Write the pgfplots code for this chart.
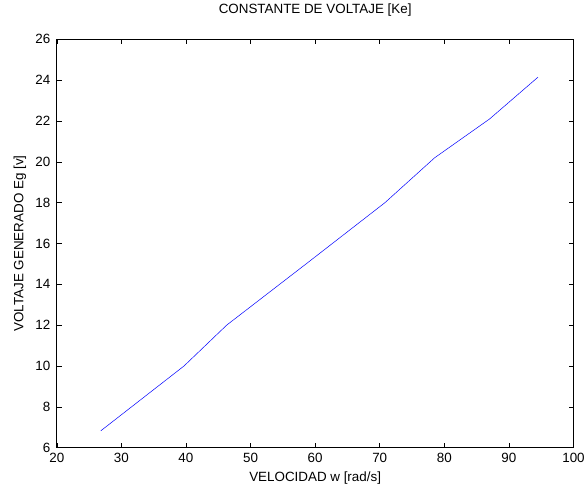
\documentclass[border=0pt]{standalone}
\usepackage{fontspec}
\setmainfont{Liberation Sans}
\usepackage{pgfplots}
\pgfplotsset{compat=1.18}
\begin{document}
\begin{tikzpicture}
\begin{axis}[
  scale only axis,
  width=519bp, height=410bp,
  xmin=20, xmax=100, ymin=6, ymax=26,
  xtick={20,30,...,100}, ytick={6,8,...,26},
  tick align=inside, major tick length=5bp,
  tick style={black, line width=0.5pt},
  axis line style={line width=0.8pt},
  /pgf/number format/assume math mode=true,
  tick label style={font=\fontsize{13.5}{16}\selectfont},
  xticklabel style={yshift=-2bp},
  yticklabel style={xshift=-3bp},
  label style={font=\fontsize{13.5}{16}\selectfont},
  title style={font=\fontsize{13.5}{16}\selectfont, at={([yshift=24bp]axis description cs:0.5,1)}, anchor=center},
  title={CONSTANTE DE VOLTAJE [Ke]},
  xlabel={VELOCIDAD w [rad/s]},
  ylabel={VOLTAJE GENERADO Eg [v]},
  xlabel style={at={([yshift=-31bp]axis description cs:0.5,0)}, anchor=center},
  ylabel style={at={([xshift=-37bp]axis description cs:0,0.5)}, anchor=center},
  clip=false,
]
\addplot[color={rgb,255:red,0;green,0;blue,255}, line width=0.5pt] coordinates {
  (26.8,6.82) (39.7,10.0) (46.3,12.0) (58.8,15.05) (70.8,18.0)
  (78.5,20.2) (87.0,22.1) (94.5,24.15)
};
\path (rel axis cs:0,0) ++(-57bp,-43bp) coordinate (bl);
\path (rel axis cs:1,1) ++(12bp,35.7bp) coordinate (tr);
\path[use as bounding box] (bl) rectangle (tr);
\end{axis}
\end{tikzpicture}
\end{document}
